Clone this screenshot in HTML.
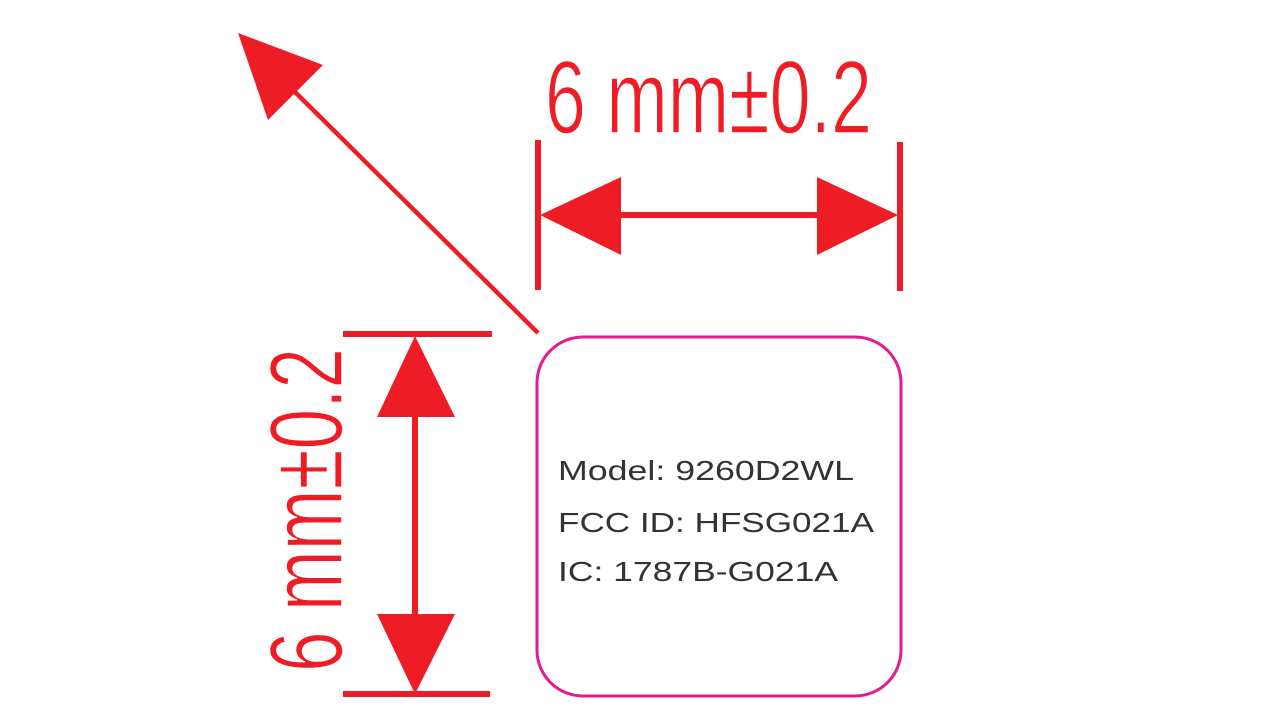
<!DOCTYPE html>
<html><head><meta charset="utf-8"><style>
html,body{margin:0;padding:0;background:#fff;width:1280px;height:720px;overflow:hidden}
</style></head><body>
<svg width="1280" height="720" viewBox="0 0 1280 720" xmlns="http://www.w3.org/2000/svg">
<g fill="#ee1c25" stroke="none">
  <rect x="535" y="140" width="6" height="150"/>
  <rect x="897" y="142" width="6" height="149"/>
  <rect x="600" y="212" width="240" height="6"/>
  <polygon points="540,215 621,177 621,255"/>
  <polygon points="898,215 817,177 817,255"/>
  <rect x="343" y="331" width="149" height="6"/>
  <rect x="343" y="691" width="147" height="6"/>
  <rect x="412" y="400" width="6" height="230"/>
  <polygon points="415,336 377,417 455,417"/>
  <polygon points="415,694 377,614 455,614"/>
  <polygon points="238,33 323,65 268,120"/>
  <line x1="290" y1="87" x2="538" y2="333" stroke="#ee1c25" stroke-width="4.5"/>
</g>
<text x="545" y="133" font-family="Liberation Sans Narrow, Liberation Sans, sans-serif" font-size="104" fill="#ee1c25" stroke="#fff" stroke-width="1.5" textLength="327" lengthAdjust="spacingAndGlyphs">6 mm±0.2</text>
<text transform="translate(342,672) rotate(-90)" x="0" y="0" font-family="Liberation Sans Narrow, Liberation Sans, sans-serif" font-size="104" fill="#ee1c25" stroke="#fff" stroke-width="1.5" textLength="324" lengthAdjust="spacingAndGlyphs">6 mm±0.2</text>
<rect x="537" y="337" width="364" height="359" rx="46" ry="46" fill="none" stroke="#e6198f" stroke-width="3"/>
<g font-family="Liberation Sans, sans-serif" font-size="28" fill="#333">
  <text x="558" y="480" textLength="296" lengthAdjust="spacingAndGlyphs">Model: 9260D2WL</text>
  <text x="558" y="532" textLength="316" lengthAdjust="spacingAndGlyphs">FCC ID: HFSG021A</text>
  <text x="558" y="581" textLength="280" lengthAdjust="spacingAndGlyphs">IC: 1787B-G021A</text>
</g>
</svg>
</body></html>
